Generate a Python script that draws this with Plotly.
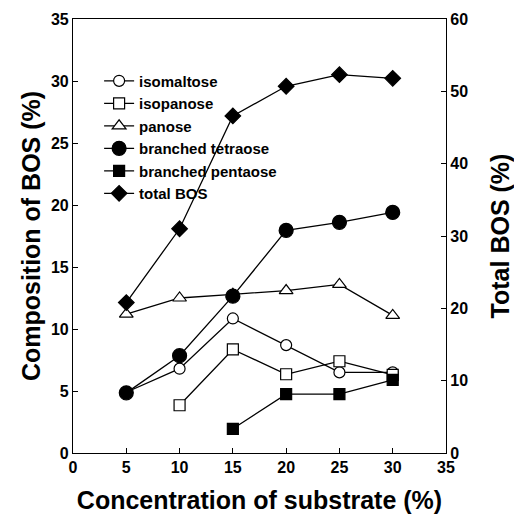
import plotly.graph_objects as go

conc = [5, 10, 15, 20, 25, 30]
isomaltose = [4.9, 6.8, 10.85, 8.7, 6.5, 6.5]
isopanose_x = [10, 15, 20, 25, 30]
isopanose = [3.85, 8.35, 6.35, 7.4, 6.3]
panose = [11.2, 12.5, 12.8, 13.1, 13.6, 11.1]
tetraose = [4.85, 7.85, 12.65, 17.95, 18.6, 19.4]
pentaose_x = [15, 20, 25, 30]
pentaose = [1.95, 4.75, 4.75, 5.9]
total_bos = [20.8, 31.0, 46.6, 50.7, 52.3, 51.8]

x_ticks = [0, 5, 10, 15, 20, 25, 30, 35]
y_ticks = [0, 5, 10, 15, 20, 25, 30, 35]
y2_ticks = [0, 10, 20, 30, 40, 50, 60]

FONT = "Liberation Sans"
LINE = dict(color="black", width=1.3)
fig = go.Figure()

def add(name, x, y, symbol, size, filled, yaxis="y"):
    fig.add_trace(go.Scatter(
        x=x, y=y, name=name, mode="lines+markers", yaxis=yaxis,
        line=LINE,
        marker=dict(symbol=symbol, size=size,
                    color="black" if filled else "white",
                    line=dict(color="black", width=1.2)),
    ))

add("isomaltose", conc, isomaltose, "circle", 11, False)
add("isopanose", isopanose_x, isopanose, "square", 11, False)
add("panose", conc, panose, "triangle-up", 12, False)
add("branched tetraose", conc, tetraose, "circle", 14, True)
add("branched pentaose", pentaose_x, pentaose, "square", 11, True)
add("total BOS", conc, total_bos, "diamond", 12, True, yaxis="y2")

tickfont = dict(family=FONT, size=16, color="black", weight="bold")
titlefont = dict(family=FONT, size=25, color="black", weight="bold")

def bold(vals):
    return ["<b>%d</b>" % v for v in vals]

fig.update_layout(
    width=514, height=527,
    margin=dict(l=73, r=68, t=19, b=74),
    paper_bgcolor="white", plot_bgcolor="white",
    font=dict(family=FONT, color="black"),
    showlegend=True,
    legend=dict(x=0.07, y=0.895, xanchor="left", yanchor="top",
                bgcolor="rgba(0,0,0,0)", borderwidth=0,
                font=dict(family=FONT, size=15, color="black", weight="bold")),
    xaxis=dict(range=[0, 35], tickvals=x_ticks, ticktext=bold(x_ticks),
               showgrid=False, zeroline=False, automargin=False,
               showline=True, linecolor="black", linewidth=1.2, mirror=True,
               ticks="inside", ticklen=5, tickcolor="black",
               tickfont=tickfont,
               title=dict(text="<b>Concentration of substrate (%)</b>", font=titlefont, standoff=16)),
    yaxis=dict(range=[0, 35], tickvals=y_ticks, ticktext=bold(y_ticks),
               showgrid=False, zeroline=False, automargin=False,
               showline=True, linecolor="black", linewidth=1.2,
               ticks="inside", ticklen=5, tickcolor="black",
               tickfont=tickfont,
               title=dict(text="<b>Composition of BOS (%)</b>", font=titlefont, standoff=3)),
    yaxis2=dict(range=[0, 60], tickvals=y2_ticks, ticktext=bold(y2_ticks),
                overlaying="y", side="right", automargin=False,
                showgrid=False, zeroline=False,
                showline=True, linecolor="black", linewidth=1.2,
                ticks="inside", ticklen=5, tickcolor="black",
                tickfont=tickfont,
                title=dict(text="<b>Total BOS (%)</b>", font=titlefont, standoff=30)),
)

fig.write_html("out.html")
